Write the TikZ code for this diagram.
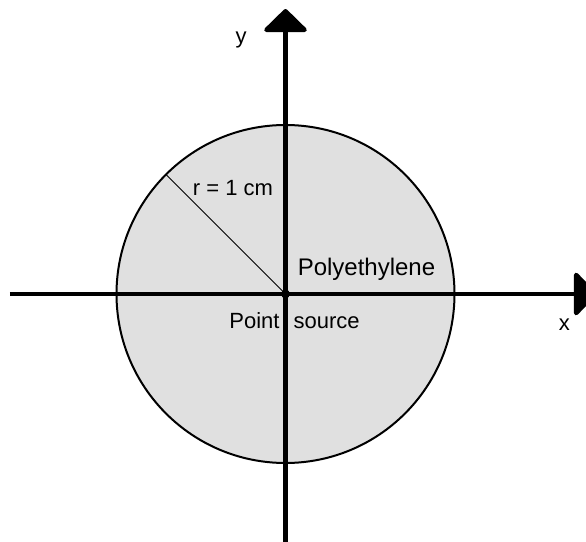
\documentclass[tikz,border=0pt]{standalone}
\usepackage{fontspec}
\setmainfont{Liberation Sans}
\usetikzlibrary{arrows.meta,calc}
\definecolor{polyfill}{RGB}{224,224,224}
\tikzstyle{axis} = [line width=2.2pt,-{Triangle[round,width=24pt,length=12pt]}]
\tikzstyle{lbl} = [inner sep=0pt,anchor=base,font=\fontsize{11}{13}\selectfont]

\begin{document}
\begin{tikzpicture}[x=0.5pt,y=-0.5pt]
        \clip (0,0) rectangle (586,542);
        \coordinate (o) at (285.5,294);
        \coordinate (top) at (285.5,9);
        \coordinate (bottom) at (285.5,560);
        \coordinate (left) at (10,294);
        \coordinate (right) at (597,294);
        \coordinate (rim) at ($(o)+(-119.5,-119.5)$);
        % polyethylene sphere
        \draw[line width=1pt,fill=polyfill] (o) circle (169);
        \draw[line width=0.5pt] (o) -- (rim);
        % axes
        \draw[axis] (bottom) -- (top);
        \draw[axis] (left) -- (right);
        \fill (o) circle (2.2pt);
        \node[lbl] (ylbl) at (241,43) {y};
        \node[lbl] (xlbl) at (564.5,330) {x};
        \node[lbl] (radius) at (233,195) {r = 1 cm};
        \node[lbl,font=\fontsize{12}{14}\selectfont] (poly) at (366.5,275) {Polyethylene};
        \node[lbl] (src) at (294.5,328) {Point\hspace{7pt}source};
    \end{tikzpicture}
\end{document}
